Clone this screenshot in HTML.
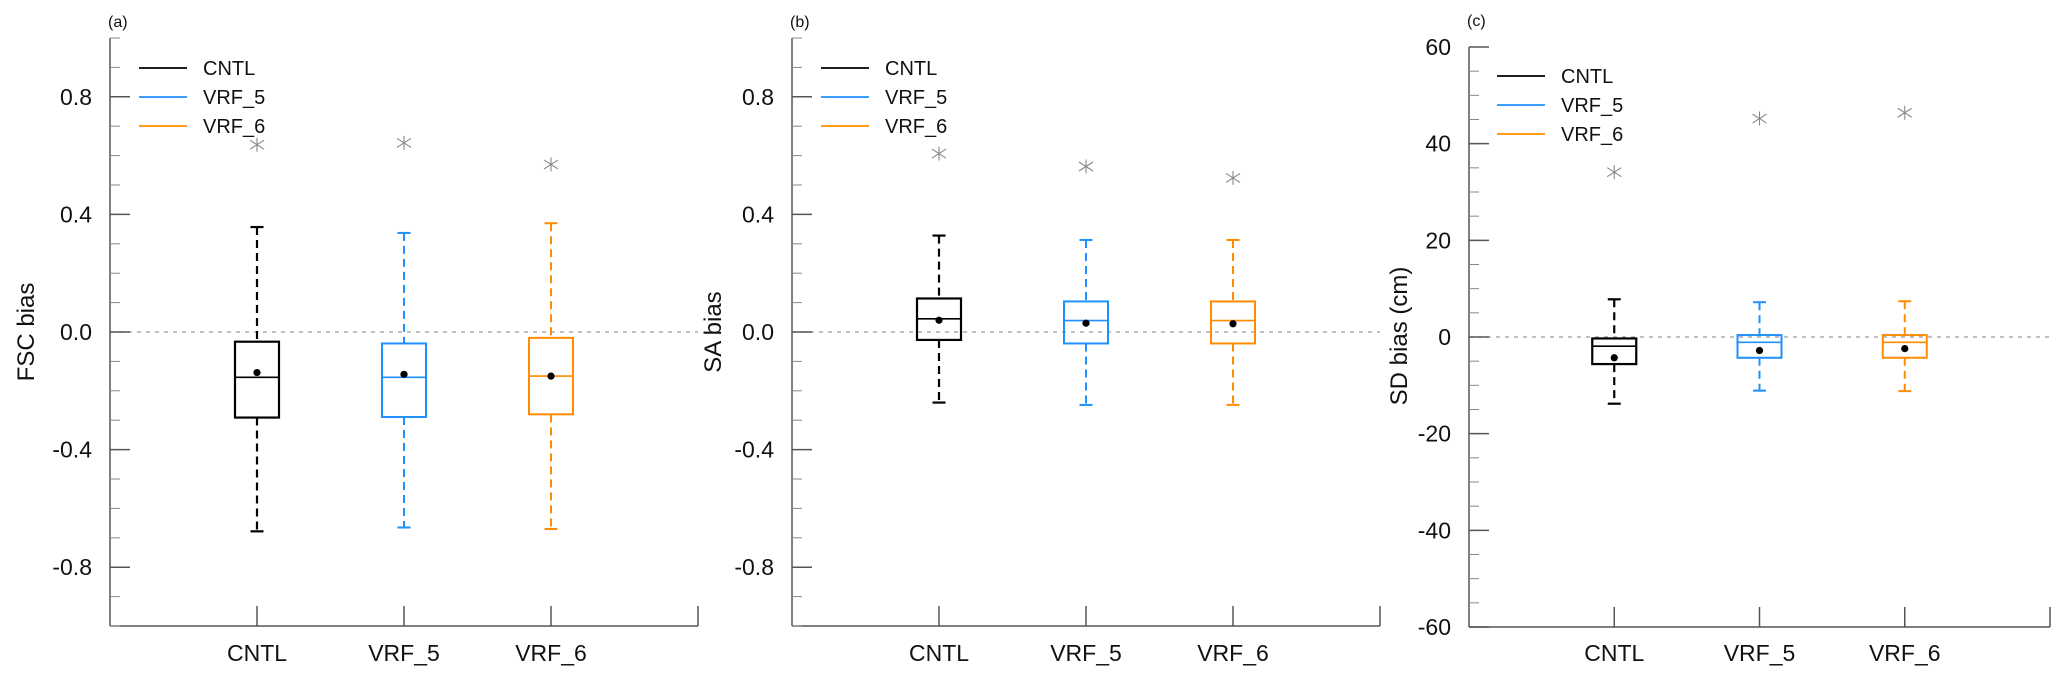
<!DOCTYPE html>
<html><head><meta charset="utf-8"><style>
html,body{margin:0;padding:0;background:#fff;}
svg{display:block;font-family:"Liberation Sans",Arial,sans-serif;}
</style></head><body>
<svg id="chart" width="2067" height="684" viewBox="0 0 2067 684" xmlns="http://www.w3.org/2000/svg"></svg>
<script>
const categories = ["CNTL","VRF_5","VRF_6"];
const colors = ["#000000","#1e90ff","#ff8c00"];
// panel a: FSC bias
const aWhiskTop = [0.357,0.337,0.37];
const aQ3 = [-0.033,-0.039,-0.02];
const aMedian = [-0.154,-0.154,-0.15];
const aMean = [-0.138,-0.144,-0.15];
const aQ1 = [-0.291,-0.289,-0.28];
const aWhiskBot = [-0.678,-0.665,-0.67];
const aOutlier = [0.637,0.643,0.57];
// panel b: SA bias
const bWhiskTop = [0.328,0.313,0.313];
const bQ3 = [0.114,0.104,0.104];
const bMedian = [0.045,0.039,0.039];
const bMean = [0.040,0.030,0.028];
const bQ1 = [-0.027,-0.039,-0.039];
const bWhiskBot = [-0.240,-0.248,-0.248];
const bOutlier = [0.607,0.563,0.524];
// panel c: SD bias (cm)
const cWhiskTop = [7.8,7.2,7.4];
const cQ3 = [-0.3,0.4,0.4];
const cMedian = [-1.9,-1.1,-1.1];
const cMean = [-4.3,-2.8,-2.4];
const cQ1 = [-5.6,-4.3,-4.3];
const cWhiskBot = [-13.8,-11.1,-11.2];
const cOutlier = [34.1,45.2,46.4];
const abTicks = ["-0.8","-0.4","0.0","0.4","0.8"];
const cTicks = ["-60","-40","-20","0","20","40","60"];

const svg = document.getElementById('chart');
const NS = "http://www.w3.org/2000/svg";
function mk(tag, attrs, parent){
  const e = document.createElementNS(NS, tag);
  for (const k in attrs) e.setAttribute(k, attrs[k]);
  (parent||svg).appendChild(e);
  return e;
}

const panels = [
  {id:'a', label:'(a)', ylab:'FSC bias', x0:110, x1:698, yTop:38, yBot:626, vmin:-1, vmax:1, minor:0.1, ticks:abTicks,
   wt:aWhiskTop,q3:aQ3,med:aMedian,mean:aMean,q1:aQ1,wb:aWhiskBot,out:aOutlier, labRight:92, ylabX:26, legX:139, legY:68, lblY:27},
  {id:'b', label:'(b)', ylab:'SA bias', x0:792, x1:1380, yTop:38, yBot:626, vmin:-1, vmax:1, minor:0.1, ticks:abTicks,
   wt:bWhiskTop,q3:bQ3,med:bMedian,mean:bMean,q1:bQ1,wb:bWhiskBot,out:bOutlier, labRight:774, ylabX:713, legX:821, legY:68, lblY:27},
  {id:'c', label:'(c)', ylab:'SD bias (cm)', x0:1469, x1:2050, yTop:47, yBot:627, vmin:-63, vmax:60, minor:5, ticks:cTicks,
   wt:cWhiskTop,q3:cQ3,med:cMedian,mean:cMean,q1:cQ1,wb:cWhiskBot,out:cOutlier, labRight:1451, ylabX:1399, legX:1497, legY:76, lblY:26}
];
// panel c: 60 at 47, 0 at 336, -60 at 627 -> use explicit linear map
panels[2].vmin = -60; panels[2].yTop = 47; panels[2].yBot = 627;

panels.forEach(p => {
  const g = mk('g', {});
  
  
  const y = v => p.yBot - (v - p.vmin) / (p.vmax - p.vmin) * (p.yBot - p.yTop);
  const x = i => p.x0 + (i + 1) * (p.x1 - p.x0) / 4;

  // zero line
  const zl = mk('line', {x1:p.x0, x2:p.x1, y1:y(0), y2:y(0), stroke:'#999', 'stroke-width':1.2, 'stroke-dasharray':'4 5'}, g);
  
  

  // axes
  const ya = mk('line', {x1:p.x0, x2:p.x0, y1:p.yTop, y2:p.yBot, stroke:'#555', 'stroke-width':1.5}, g);
  
  
  const xa = mk('line', {x1:p.x0, x2:p.x1, y1:p.yBot, y2:p.yBot, stroke:'#555', 'stroke-width':1.5}, g);
  
  

  // minor ticks
  const nMinor = Math.round((p.vmax - p.vmin) / p.minor);
  for (let k = 0; k <= nMinor; k++) {
    const v = p.vmin + k * p.minor;
    mk('line', {x1:p.x0, x2:p.x0 + 10, y1:y(v), y2:y(v), stroke:'#888', 'stroke-width':1}, g);
  }
  // major ticks + labels
  p.ticks.forEach(t => {
    const v = parseFloat(t);
    mk('line', {x1:p.x0, x2:p.x0 + 20, y1:y(v), y2:y(v), stroke:'#555', 'stroke-width':1.5}, g);
    const tx = mk('text', {x:p.labRight, y:y(v) + 8, 'text-anchor':'end', 'font-size':23, fill:'#111'}, g);
    tx.textContent = t;
    
    
  });
  // x ticks and labels
  categories.forEach((c, i) => {
    mk('line', {x1:x(i), x2:x(i), y1:p.yBot - 20, y2:p.yBot, stroke:'#555', 'stroke-width':1.5}, g);
    const tx = mk('text', {x:x(i), y:661, 'text-anchor':'middle', 'font-size':23, fill:'#111'}, g);
    tx.textContent = c;
    
    
  });
  mk('line', {x1:p.x1, x2:p.x1, y1:p.yBot - 20, y2:p.yBot, stroke:'#555', 'stroke-width':1.5}, g);

  // panel label
  const pl = mk('text', {x:p.x0 - 2, y:p.lblY, 'font-size':16, fill:'#111'}, g);
  pl.textContent = p.label;
  
  

  // y axis title
  const cy = (p.id === 'c') ? 336 : 332;
  const yl = mk('text', {x:p.ylabX, y:cy, 'text-anchor':'middle', 'font-size':24, fill:'#111', transform:`rotate(-90 ${p.ylabX} ${cy})`, dy:8}, g);
  yl.textContent = p.ylab;
  
  

  // boxes
  categories.forEach((c, i) => {
    const col = colors[i];
    const sw = i === 0 ? 2.2 : 2;
    const bg = mk('g', {}, g);
    
    
    const cx = x(i), hw = 22, cw = 6.5;
    mk('line', {x1:cx, x2:cx, y1:y(p.wt[i]), y2:y(p.q3[i]), stroke:col, 'stroke-width':sw, 'stroke-dasharray':'8 5'}, bg);
    mk('line', {x1:cx, x2:cx, y1:y(p.q1[i]), y2:y(p.wb[i]), stroke:col, 'stroke-width':sw, 'stroke-dasharray':'8 5'}, bg);
    mk('line', {x1:cx - cw, x2:cx + cw, y1:y(p.wt[i]), y2:y(p.wt[i]), stroke:col, 'stroke-width':sw}, bg);
    mk('line', {x1:cx - cw, x2:cx + cw, y1:y(p.wb[i]), y2:y(p.wb[i]), stroke:col, 'stroke-width':sw}, bg);
    mk('rect', {x:cx - hw, y:y(p.q3[i]), width:2 * hw, height:y(p.q1[i]) - y(p.q3[i]), fill:'none', stroke:col, 'stroke-width':sw}, bg);
    mk('line', {x1:cx - hw, x2:cx + hw, y1:y(p.med[i]), y2:y(p.med[i]), stroke:col, 'stroke-width':1.6}, bg);
    mk('circle', {cx:cx, cy:y(p.mean[i]), r:3.6, fill:'#000'}, bg);
    // outlier asterisk
    const oy = y(p.out[i]), s = 7;
    const og = mk('g', {stroke:'#888', 'stroke-width':1.1}, bg);
    
    
    mk('line', {x1:cx - s, x2:cx + s, y1:oy - 4.5, y2:oy + 4.5}, og);
    mk('line', {x1:cx - s, x2:cx + s, y1:oy + 4.5, y2:oy - 4.5}, og);
    mk('line', {x1:cx, x2:cx, y1:oy - 7, y2:oy + 7}, og);
  });

  // legend
  const lg = mk('g', {}, g);
  
  
  categories.forEach((c, i) => {
    const ly = p.legY + i * 29;
    const e = mk('g', {}, lg);
    
    
    mk('line', {x1:p.legX, x2:p.legX + 48, y1:ly, y2:ly, stroke:colors[i], 'stroke-width':1.8}, e);
    const t = mk('text', {x:p.legX + 64, y:ly + 7, 'font-size':20, fill:'#111'}, e);
    t.textContent = c;
  });
});
</script>
</body></html>
